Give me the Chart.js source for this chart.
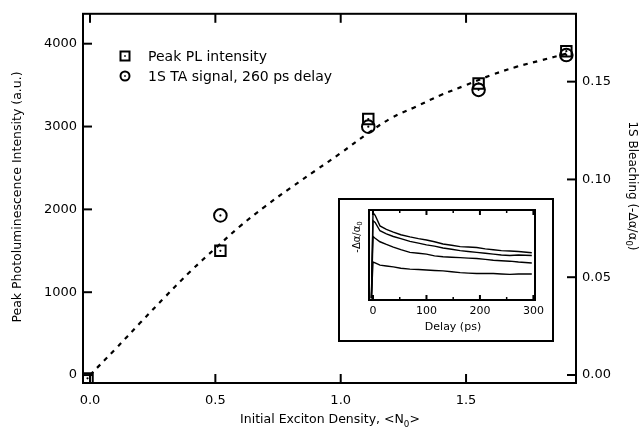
<!DOCTYPE html>
<html>
<head>
<meta charset="utf-8">
<script src="https://cdn.jsdelivr.net/npm/chart.js@4.4.1/dist/chart.umd.min.js"></script>
<style>
  body { margin: 0; background: #fff; }
  #wrap { position: relative; width: 643px; height: 428px; }
  #insetBox { position: absolute; left: 338px; top: 198px; width: 216px; height: 144px; }
</style>
</head>
<body>
<div id="wrap">
  <canvas id="mainChart" width="643" height="428"></canvas>
  <div id="insetBox"><canvas id="insetChart" width="216" height="144"></canvas></div>
</div>
<script>
// main plot data
const plDensity = [-0.01, 0.52, 1.11, 1.55, 1.90];
const plPeak = [-40, 1500, 3090, 3520, 3910];
const taDensity = [0.52, 1.11, 1.55, 1.90];
const taBleach = [0.0816, 0.127, 0.1458, 0.1636];
const fitX = [0, 0.1, 0.2, 0.3, 0.4, 0.5, 0.6, 0.7, 0.8, 0.9, 1.0, 1.1, 1.2, 1.3, 1.4, 1.5, 1.6, 1.7, 1.8, 1.9];
const fitY = [0, 310, 630, 945, 1250, 1530, 1800, 2040, 2260, 2470, 2680, 2900, 3100, 3240, 3380, 3500, 3620, 3720, 3800, 3880];
const xTicks = [0, 0.5, 1.0, 1.5];
const yTicks = [0, 1000, 2000, 3000, 4000];
const y2Ticks = [0, 0.05, 0.10, 0.15];

// inset data (arbitrary units)
const delay = [-3, 0, 4, 13, 25, 38, 52, 69, 85, 100, 115, 131, 147, 163, 178, 194, 210, 225, 240, 256, 272, 297];
const trace1 = [0, 0.97, 0.94, 0.82, 0.78, 0.75, 0.72, 0.695, 0.675, 0.66, 0.64, 0.615, 0.60, 0.585, 0.58, 0.575, 0.56, 0.55, 0.54, 0.535, 0.53, 0.515];
const trace2 = [0, 0.88, 0.86, 0.765, 0.73, 0.70, 0.675, 0.645, 0.625, 0.605, 0.59, 0.57, 0.555, 0.54, 0.53, 0.52, 0.51, 0.50, 0.49, 0.485, 0.49, 0.485];
const trace3 = [0, 0.70, 0.68, 0.64, 0.61, 0.58, 0.55, 0.52, 0.51, 0.50, 0.48, 0.47, 0.465, 0.46, 0.455, 0.45, 0.44, 0.43, 0.425, 0.42, 0.41, 0.40];
const trace4 = [0, 0.41, 0.40, 0.375, 0.365, 0.355, 0.34, 0.33, 0.325, 0.32, 0.315, 0.31, 0.30, 0.29, 0.285, 0.28, 0.28, 0.28, 0.275, 0.27, 0.275, 0.275];
const delayTicks = [0, 100, 200, 300];
const delayMinor = [50, 150, 250];

Chart.defaults.font.family = "'DejaVu Sans'";
Chart.defaults.color = '#000';

const pts = (xs, ys) => xs.map((x, i) => ({x: x, y: ys[i]}));
const line = (ctx, x1, y1, x2, y2) => { ctx.beginPath(); ctx.moveTo(x1, y1); ctx.lineTo(x2, y2); ctx.stroke(); };
const tight = { left: 0, top: 0, right: 0, bottom: 0 };

// text with a subscript part, parts = [[text, isSub], ...], centred on (x, y)
function subText(ctx, parts, x, y, size, rot) {
  ctx.save();
  ctx.translate(x, y); ctx.rotate(rot || 0);
  ctx.fillStyle = '#000'; ctx.textBaseline = 'middle'; ctx.textAlign = 'left';
  let w = 0;
  parts.forEach(p => { ctx.font = (p[1] ? size * 0.7 : size) + "px 'DejaVu Sans'"; w += ctx.measureText(p[0]).width; });
  let cx = -w / 2;
  parts.forEach(p => {
    ctx.font = (p[1] ? size * 0.7 : size) + "px 'DejaVu Sans'";
    ctx.fillText(p[0], cx, p[1] ? size * 0.35 : 0);
    cx += ctx.measureText(p[0]).width;
  });
  ctx.restore();
}

const mainDecor = {
  id: 'mainDecor',
  afterDraw(chart) {
    const {ctx, chartArea: a, scales} = chart;
    ctx.save();
    ctx.strokeStyle = '#000'; ctx.lineWidth = 2;
    ctx.strokeRect(a.left, a.top, a.right - a.left, a.bottom - a.top);
    const L = 9;
    xTicks.forEach(v => { const p = scales.x.getPixelForValue(v); line(ctx, p, a.bottom, p, a.bottom - L); line(ctx, p, a.top, p, a.top + L); });
    yTicks.forEach(v => { const p = scales.y.getPixelForValue(v); line(ctx, a.left, p, a.left + L, p); });
    y2Ticks.forEach(v => { const p = scales.y2.getPixelForValue(v); line(ctx, a.right, p, a.right - L, p); });

    // legend
    ctx.lineWidth = 2;
    ctx.strokeRect(120.5, 51.5, 9, 9);
    ctx.beginPath(); ctx.arc(125, 76, 4.5, 0, Math.PI * 2); ctx.stroke();
    ctx.fillStyle = '#000';
    ctx.fillRect(124.2, 55.2, 1.6, 1.6); ctx.fillRect(124.2, 75.2, 1.6, 1.6);
    ctx.font = "14px 'DejaVu Sans'"; ctx.textBaseline = 'middle';
    ctx.fillText('Peak PL intensity', 148, 57);
    ctx.fillText('1S TA signal, 260 ps delay', 148, 77);
    ctx.restore();

    subText(ctx, [['Peak Photoluminescence Intensity (a.u.)', false]], 18, 197, 12.5, -Math.PI / 2);
    subText(ctx, [['Initial Exciton Density, <N', false], ['0', true], ['>', false]], 330, 420, 12.5, 0);
    subText(ctx, [['1S Bleaching (-\u0394\u03b1/\u03b1', false], ['0', true], [')', false]], 632, 186, 12, Math.PI / 2);
  }
};

const noGrid = { display: false, drawTicks: false };

new Chart(document.getElementById('mainChart'), {
  type: 'scatter',
  data: {
    datasets: [
      { data: pts(fitX, fitY), yAxisID: 'y', showLine: true, borderColor: '#000', borderWidth: 2.2,
        borderDash: [4.5, 5.5], pointRadius: 0, tension: 0.4 },
      { data: pts(taDensity, taBleach), yAxisID: 'y2', pointStyle: 'circle', pointRadius: 6.3,
        borderColor: '#000', borderWidth: 2, backgroundColor: 'rgba(0,0,0,0)' },
      { data: pts(plDensity, plPeak), yAxisID: 'y', pointStyle: 'rect', pointRadius: 7.4, clip: tight,
        borderColor: '#000', borderWidth: 2, backgroundColor: 'rgba(0,0,0,0)' },
      { data: pts(taDensity, taBleach), yAxisID: 'y2', pointRadius: 1.1, borderWidth: 0, backgroundColor: '#000' },
      { data: pts(plDensity, plPeak), yAxisID: 'y', pointRadius: 1.1, borderWidth: 0, backgroundColor: '#000', clip: tight }
    ]
  },
  options: {
    responsive: false, animation: false,
    layout: { padding: { top: 13, left: 0, right: 0, bottom: 0 } },
    plugins: { legend: { display: false }, tooltip: { enabled: false } },
    scales: {
      x: { type: 'linear', position: 'bottom', min: -0.028, max: 1.9386,
        grid: noGrid, border: { display: false },
        afterBuildTicks: s => { s.ticks = xTicks.map(v => ({value: v})); },
        afterFit: s => { s.height = 45; },
        ticks: { font: { size: 13 }, padding: 10, callback: v => v.toFixed(1) } },
      y: { type: 'linear', position: 'left', min: -96, max: 4361,
        grid: noGrid, border: { display: false },
        afterBuildTicks: s => { s.ticks = yTicks.map(v => ({value: v})); },
        afterFit: s => { s.width = 83; },
        ticks: { font: { size: 13 }, padding: 6, callback: v => String(v) } },
      y2: { type: 'linear', position: 'right', min: -0.0041, max: 0.1847,
        grid: noGrid, border: { display: false },
        afterBuildTicks: s => { s.ticks = y2Ticks.map(v => ({value: v})); },
        afterFit: s => { s.width = 67; },
        ticks: { font: { size: 13 }, padding: 6, callback: v => v.toFixed(2) } }
    }
  },
  plugins: [mainDecor]
});

const insetDecor = {
  id: 'insetDecor',
  beforeDraw(chart) {
    const {ctx, width, height} = chart;
    ctx.save(); ctx.fillStyle = '#fff'; ctx.fillRect(0, 0, width, height); ctx.restore();
  },
  afterDraw(chart) {
    const {ctx, chartArea: a, scales, width, height} = chart;
    ctx.save();
    ctx.strokeStyle = '#000'; ctx.lineWidth = 2;
    ctx.strokeRect(1, 1, width - 2, height - 2);
    ctx.strokeRect(a.left, a.top, a.right - a.left, a.bottom - a.top);
    delayTicks.forEach(v => { const p = scales.x.getPixelForValue(v); line(ctx, p, a.bottom, p, a.bottom - 5); line(ctx, p, a.top, p, a.top + 5); });
    ctx.lineWidth = 1.5;
    delayMinor.forEach(v => { const p = scales.x.getPixelForValue(v); line(ctx, p, a.bottom, p, a.bottom - 3); line(ctx, p, a.top, p, a.top + 3); });
    ctx.restore();
    subText(ctx, [['Delay (ps)', false]], 115, 129, 11, 0);
    subText(ctx, [['-\u0394\u03b1/\u03b1', false], ['0', true]], 19, 39, 10, -Math.PI / 2);
  }
};

const traceSet = ys => ({ data: pts(delay, ys), showLine: true, borderColor: '#000', borderWidth: 1.4, pointRadius: 0, tension: 0 });

new Chart(document.getElementById('insetChart'), {
  type: 'scatter',
  data: { datasets: [traceSet(trace1), traceSet(trace2), traceSet(trace3), traceSet(trace4)] },
  options: {
    responsive: false, animation: false,
    layout: { padding: { top: 12, left: 0, right: 19, bottom: 0 } },
    plugins: { legend: { display: false }, tooltip: { enabled: false } },
    scales: {
      x: { type: 'linear', min: -7.5, max: 303,
        grid: noGrid, border: { display: false },
        afterBuildTicks: s => { s.ticks = delayTicks.map(v => ({value: v})); },
        afterFit: s => { s.height = 42; },
        ticks: { font: { size: 11 }, padding: 5, maxRotation: 0, callback: v => String(v) } },
      y: { type: 'linear', min: -0.02, max: 1.0,
        grid: noGrid, border: { display: false },
        afterFit: s => { s.width = 31; },
        ticks: { display: false } }
    }
  },
  plugins: [insetDecor]
});
</script>
</body>
</html>
